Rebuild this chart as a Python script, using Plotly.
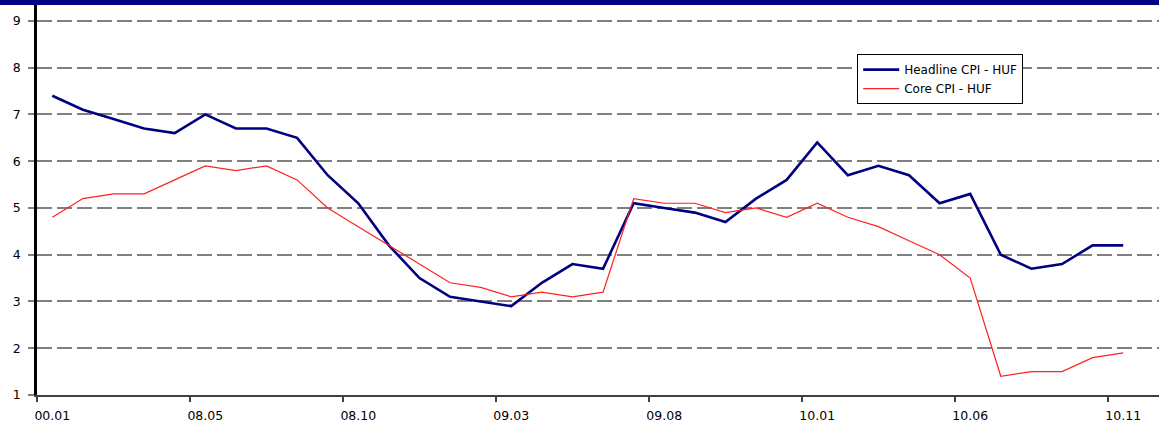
import plotly.graph_objects as go

months = ["00.01", "08.01", "08.02", "08.03", "08.04", "08.05", "08.06", "08.07", "08.08", "08.09",
          "08.10", "08.11", "08.12", "09.01", "09.02", "09.03", "09.04", "09.05", "09.06", "09.07",
          "09.08", "09.09", "09.10", "09.11", "09.12", "10.01", "10.02", "10.03", "10.04", "10.05",
          "10.06", "10.07", "10.08", "10.09", "10.10", "10.11"]
headline = [7.4, 7.1, 6.9, 6.7, 6.6, 7.0, 6.7, 6.7, 6.5, 5.7,
            5.1, 4.2, 3.5, 3.1, 3.0, 2.9, 3.4, 3.8, 3.7, 5.1,
            5.0, 4.9, 4.7, 5.2, 5.6, 6.4, 5.7, 5.9, 5.7, 5.1,
            5.3, 4.0, 3.7, 3.8, 4.2, 4.2]
core = [4.8, 5.2, 5.3, 5.3, 5.6, 5.9, 5.8, 5.9, 5.6, 5.0,
        4.6, 4.2, 3.8, 3.4, 3.3, 3.1, 3.2, 3.1, 3.2, 5.2,
        5.1, 5.1, 4.9, 5.0, 4.8, 5.1, 4.8, 4.6, 4.3, 4.0,
        3.5, 1.4, 1.5, 1.5, 1.8, 1.9]
y_ticks = [1, 2, 3, 4, 5, 6, 7, 8, 9]

idx = list(range(len(months)))
label_idx = idx[::5]

fig = go.Figure()
fig.add_trace(go.Scatter(x=idx, y=headline, mode="lines", name="Headline CPI - HUF",
                         line=dict(color="#000080", width=2.6)))
fig.add_trace(go.Scatter(x=idx, y=core, mode="lines", name="Core CPI - HUF",
                         line=dict(color="#FF2020", width=1.2)))

fig.update_layout(
    width=1159, height=423,
    margin=dict(l=37, r=0, t=5, b=28),
    paper_bgcolor="white", plot_bgcolor="white",
    font=dict(family="DejaVu Sans, Liberation Sans, sans-serif", size=12, color="black"),
    showlegend=True,
    legend=dict(x=0.731, y=0.874, xanchor="left", yanchor="top",
                bgcolor="white", bordercolor="black", borderwidth=1,
                font=dict(size=12), tracegroupgap=0, itemwidth=36),
    shapes=[dict(type="rect", xref="paper", yref="paper", x0=-0.05, x1=1.02,
                 y0=1.0, y1=1.03, fillcolor="#000080", line=dict(width=0), layer="above")],
)
fig.update_xaxes(
    range=[-0.5, 36.17], automargin=False,
    tickmode="array", tickvals=label_idx, ticktext=[months[i] for i in label_idx],
    ticks="", showgrid=False, zeroline=False,
    showline=True, linecolor="#404040", linewidth=1.5,
    tickfont=dict(size=12.5), ticklabelstandoff=8,
    minor=dict(tickmode="array", tickvals=[i - 0.5 for i in label_idx],
               ticks="outside", ticklen=5, tickcolor="#404040", tickwidth=1.5, showgrid=False),
)
fig.update_yaxes(
    range=[1, 9.34], automargin=False,
    tickmode="array", tickvals=y_ticks,
    ticks="outside", ticklen=6, tickcolor="#808080", tickwidth=1.5,
    showgrid=True, gridcolor="#808080", gridwidth=1.5, griddash="15px,5px",
    zeroline=False, showline=True, linecolor="black", linewidth=2.5,
    tickfont=dict(size=12.5), ticklabelstandoff=5,
)
fig.write_html("out.html", config={"displayModeBar": False},
               post_script="document.body.style.margin='0';document.body.style.padding='0';")
